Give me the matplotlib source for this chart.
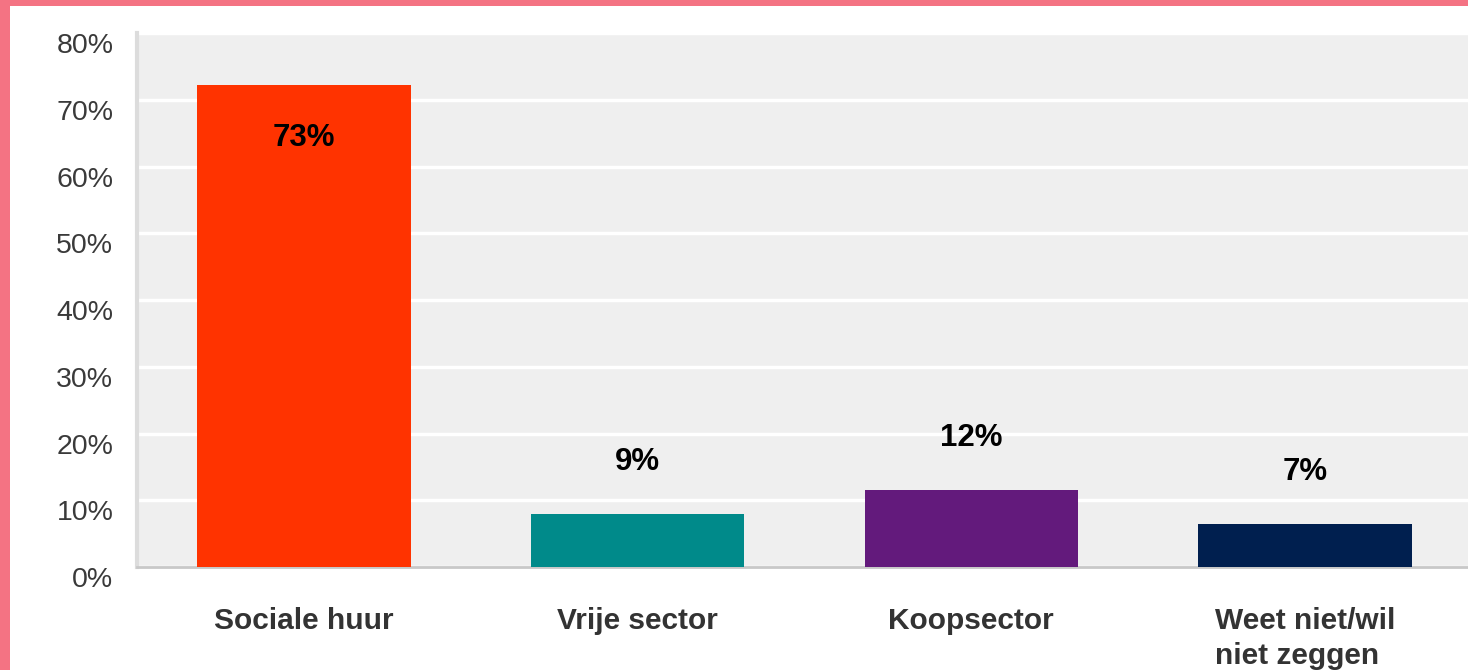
import matplotlib.pyplot as plt
from matplotlib.patches import Rectangle

categories = ["Sociale huur", "Vrije sector", "Koopsector", "Weet niet/wil\nniet zeggen"]
values = [72.2, 8.0, 11.6, 6.5]          # bar heights as drawn (%)
value_labels = ["73%", "9%", "12%", "7%"]
colors = ["#ff3300", "#008a8a", "#631a7c", "#001f4f"]
yticks = [0, 10, 20, 30, 40, 50, 60, 70, 80]

plt.rcParams.update({'font.family': ['Liberation Sans', 'DejaVu Sans']})

fig = plt.figure(figsize=(14.68, 6.70), dpi=100, facecolor='#f47383')
# white page inside the pink frame
fig.patches.append(Rectangle((10 / 1468, 0), 1, (670 - 6) / 670,
                             transform=fig.transFigure, facecolor='white',
                             edgecolor='none', zorder=-10))

ax = fig.add_axes([137 / 1468, 103 / 670, (1472 - 137) / 1468, (636.6 - 103) / 670])
ax.set_facecolor('#efefef')

x = range(len(categories))
ax.bar(x, values, width=0.64, color=colors, zorder=3)

for i, (v, lab) in enumerate(zip(values, value_labels)):
    dy = -53 if v > 40 else 52
    ax.annotate(lab, (i, v), xytext=(0, dy), textcoords='offset pixels',
                ha='center', va='center', fontsize=22.5, fontweight='bold',
                color='black', zorder=4)

ax.set_xlim(-0.5, 3.5)
ax.set_ylim(0, 80)
ax.set_yticks(yticks)
# labels hang just below their gridlines
ax.set_yticklabels([f"{t}%" for t in yticks], fontsize=20.5, color='#3a3a3a', va='top')
ax.yaxis.grid(True, color='white', linewidth=2.5, zorder=1)
ax.set_axisbelow(True)

ax.set_xticks(list(x))
ax.set_xticklabels(categories, fontsize=21.5, fontweight='bold', color='#333333',
                   va='top', multialignment='left', linespacing=1.3)
ax.tick_params(axis='x', length=0, pad=29)
ax.tick_params(axis='y', length=0, pad=17)

for s in ['top', 'right']:
    ax.spines[s].set_visible(False)
ax.spines['left'].set_color('#dcdcdc')
ax.spines['left'].set_linewidth(3)
ax.spines['bottom'].set_color('#c8c8c8')
ax.spines['bottom'].set_linewidth(2)

fig.savefig('out.png', dpi=100, facecolor=fig.get_facecolor())
